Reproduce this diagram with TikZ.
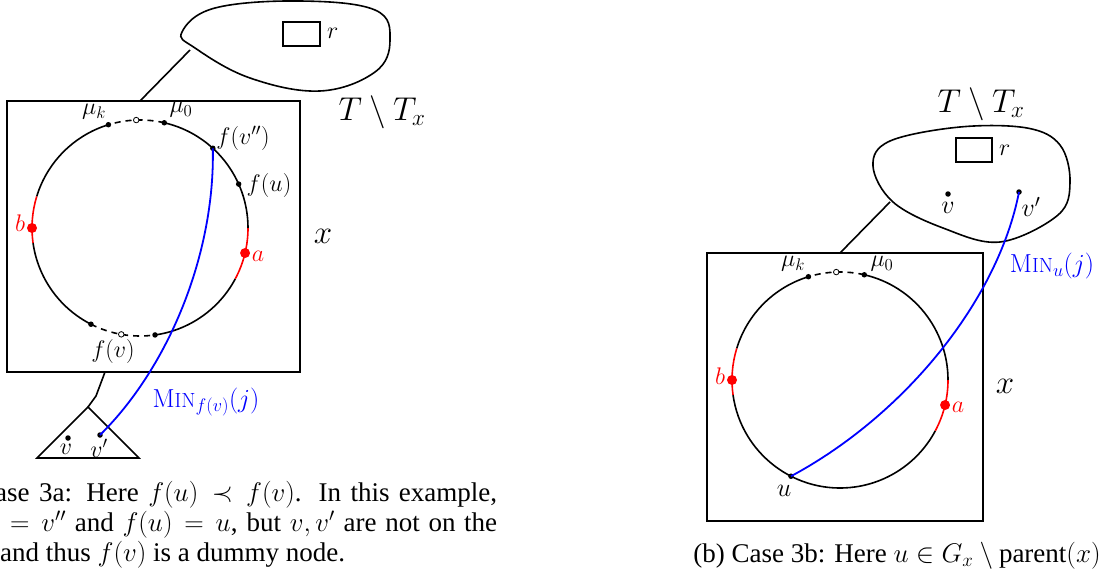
\RequirePackage{fix-cm}
\documentclass[tikz,border=0pt]{standalone}
\usepackage{fontspec}
\newfontfamily\capfont{Liberation Serif}
\usetikzlibrary{calc}
\begin{document}
\begin{tikzpicture}[x=1pt,y=1pt,
  ring/.style={line width=1.6pt},
  redarc/.style={line width=1.6pt, red},
  dasharc/.style={line width=1.6pt, dash pattern=on 6pt off 5pt},
  bluepath/.style={blue, line width=1.8pt},
  lbl/.style={font=\fontsize{24}{28}\selectfont, inner sep=0pt},
  rlbl/.style={font=\fontsize{26}{30}\selectfont, inner sep=0pt},
  biglbl/.style={font=\fontsize{33}{38}\selectfont, inner sep=0pt},
  minlbl/.style={font=\fontsize{26}{31}\selectfont, inner sep=0pt, text=blue},
  caption/.style={font=\capfont\fontsize{27}{32}\selectfont, inner sep=0pt},
  dot/.style={circle, fill=black, inner sep=0pt, minimum size=5.5pt},
  odot/.style={circle, draw=black, fill=white, line width=0.8pt, inner sep=0pt, minimum size=5.5pt},
  rdot/.style={circle, fill=red, inner sep=0pt, minimum size=10pt},
  boxnode/.style={draw, line width=1.6pt, inner sep=0pt}
]
\useasboundingbox (0,0) rectangle (1102,-575);

%================ LEFT FIGURE =================
% blob T \ T_x
\draw[ring] plot[smooth cycle, tension=0.65] coordinates
  {(182,-32) (215,-8) (300,-1) (375,-10) (390,-40) (375,-72) (320,-91) (250,-78) (195,-48)};
\node[boxnode, minimum width=37pt, minimum height=24pt] (rA) at (301.5,-34) {};
\node[lbl, anchor=west] (rAl) at (327,-33) {$r$};
\node[biglbl] (TA) at (382,-112) {$T \setminus T_x$};
% rectangle x
\node[boxnode, minimum width=293pt, minimum height=271pt] (XA) at (153.5,-236.5) {};
\node[biglbl] (xA) at (323,-236) {$x$};
\coordinate (blobA) at (190,-50);
\coordinate (XAtop) at (140,-101);
\draw[ring] (blobA) -- (XAtop);
% cycle
\coordinate (CA) at (140,-228);
\draw[ring] (CA) ++(107:108) arc[start angle=107,end angle=163,radius=108];
\draw[redarc] (CA) ++(163:108) arc[start angle=163,end angle=188,radius=108];
\draw[ring] (CA) ++(188:108) arc[start angle=188,end angle=243,radius=108];
\draw[dasharc] (CA) ++(243:108) arc[start angle=243,end angle=278,radius=108];
\draw[ring] (CA) ++(278:108) arc[start angle=278,end angle=332,radius=108];
\draw[redarc] (CA) ++(332:108) arc[start angle=332,end angle=360,radius=108];
\draw[ring] (CA) ++(0:108) arc[start angle=0,end angle=77,radius=108];
\draw[dasharc] (CA) ++(77:108) arc[start angle=77,end angle=107,radius=108];
% points on the cycle
\path (CA) ++(107:108) node[dot] (mukA) {};
\path (CA) ++(92:108) node[odot] (mmA) {};
\path (CA) ++(77:108) node[dot] (mu0A) {};
\path (CA) ++(47.6:108) node[dot] (fvppA) {};
\path (CA) ++(24:108) node[dot] (fuA) {};
\path (CA) ++(180:108) node[rdot] (bA) {};
\path (CA) ++(-13.4:108) node[rdot] (aA) {};
\path (CA) ++(243:108) node[dot] (d1A) {};
\path (CA) ++(260:108) node[odot] (fvA) {};
\path (CA) ++(278:108) node[dot] (d2A) {};
\node[lbl] at (94,-112) {$\mu_k$};
\node[lbl] at (181,-110) {$\mu_0$};
\node[lbl] at (243,-138) {$f(v'')$};
\node[lbl] at (269,-186) {$f(u)$};
\node[lbl, text=red] at (20,-223) {$b$};
\node[lbl, text=red] at (258,-256) {$a$};
\node[lbl] at (113,-351) {$f(v)$};
% subtree triangle
\coordinate (XAbot) at (105,-372);
\coordinate (bend) at (96,-396);
\coordinate (apex) at (88,-407);
\draw[ring] (XAbot) -- (bend) -- (apex);
\draw[ring] (apex) -- (37,-458) -- (139,-458) -- cycle;
\node[dot] (vA) at (68,-438) {};
\node[dot] (vpA) at (100,-435) {};
\node[lbl] at (66,-449) {$v$};
\node[lbl] at (99,-448) {$v'$};
% blue path
\draw[bluepath] (fvppA.center) .. controls (215,-255) and (168,-368) .. (vpA.center);
\node[minlbl] at (206,-402) {M{\fontsize{20.5}{25}\selectfont IN}$_{f(v)}(j)$};
% caption (a)
\node[caption, anchor=base west] at (-5,-501) {\makebox[502pt][s]{ase 3a: Here $f(u) \prec f(v)$. In this example,}};
\node[caption, anchor=base west] at (10,-531) {\makebox[487pt][s]{$= v''$ and $f(u) = u$, but $v, v'$ are not on the}};
\node[caption, anchor=base west] at (0,-561) {and thus $f(v)$ is a dummy node.};

%================ RIGHT FIGURE =================
\draw[ring] plot[smooth cycle, tension=0.6] coordinates
  {(873,-166) (890,-141) (960,-127) (1027,-128) (1060,-145) (1070,-182) (1058,-215) (1000,-242) (943,-228) (893,-202)};
\node[boxnode, minimum width=36pt, minimum height=24pt] (rB) at (974,-150) {};
\node[lbl, anchor=west] (rBl) at (999,-150) {$r$};
\node[biglbl] (TB) at (981,-104) {$T \setminus T_x$};
\node[dot] (vB) at (948,-194) {};
\node[dot] (vpB) at (1019,-192) {};
\node[rlbl] at (948,-208) {$v$};
\node[rlbl] at (1031,-207) {$v'$};
% rectangle x
\node[boxnode, minimum width=276pt, minimum height=268pt] (XB) at (845,-387) {};
\node[biglbl] (xB) at (1005,-386) {$x$};
\coordinate (blobB) at (890,-202);
\coordinate (XBtop) at (840,-253);
\draw[ring] (blobB) -- (XBtop);
% cycle
\coordinate (CB) at (840,-380);
\draw[ring] (CB) ++(107:108) arc[start angle=107,end angle=163,radius=108];
\draw[redarc] (CB) ++(163:108) arc[start angle=163,end angle=188,radius=108];
\draw[ring] (CB) ++(188:108) arc[start angle=188,end angle=332,radius=108];
\draw[redarc] (CB) ++(332:108) arc[start angle=332,end angle=360,radius=108];
\draw[ring] (CB) ++(0:108) arc[start angle=0,end angle=77,radius=108];
\draw[dasharc] (CB) ++(77:108) arc[start angle=77,end angle=107,radius=108];
\path (CB) ++(107:108) node[dot] (mukB) {};
\path (CB) ++(92:108) node[odot] (mmB) {};
\path (CB) ++(77:108) node[dot] (mu0B) {};
\path (CB) ++(180:108) node[rdot] (bB) {};
\path (CB) ++(-13.4:108) node[rdot] (aB) {};
\path (CB) ++(243:108) node[dot] (uB) {};
\node[lbl] at (793,-264) {$\mu_k$};
\node[lbl] at (882,-264) {$\mu_0$};
\node[lbl, text=red] at (720,-376) {$b$};
\node[lbl, text=red] at (958,-407) {$a$};
\node[rlbl] at (784,-491) {$u$};
% blue path
\draw[bluepath] (uB.center) .. controls (905,-415) and (998,-300) .. (vpB.center);
\node[minlbl] at (1052,-266) {M{\fontsize{20.5}{25}\selectfont IN}$_{u}(j)$};
% caption (b)
\node[caption, anchor=base] at (897,-562) {(b) Case 3b: Here $u \in G_x \setminus{}$parent$(x)$};
\end{tikzpicture}
\end{document}
